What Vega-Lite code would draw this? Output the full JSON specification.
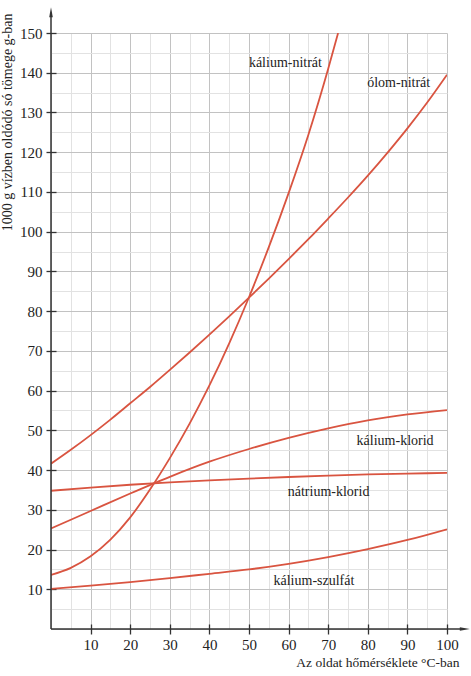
{
  "$schema": "https://vega.github.io/schema/vega-lite/v6.json",
  "width": 396,
  "height": 596,
  "autosize": {"type": "none"},
  "padding": {"left": 51, "top": 33, "right": 24, "bottom": 47},
  "background": "white",
  "config": {"view": {"stroke": null}, "font": "Liberation Serif"},
  "datasets": {
    "curves": [
      {"s": "kálium-nitrát", "t": 0, "v": 13.6}, {"s": "kálium-nitrát", "t": 5, "v": 15.4}, {"s": "kálium-nitrát", "t": 10, "v": 18.3}, {"s": "kálium-nitrát", "t": 15, "v": 22.5}, {"s": "kálium-nitrát", "t": 20, "v": 28.1}, {"s": "kálium-nitrát", "t": 25, "v": 35.1}, {"s": "kálium-nitrát", "t": 30, "v": 43.0}, {"s": "kálium-nitrát", "t": 35, "v": 51.7}, {"s": "kálium-nitrát", "t": 40, "v": 61.3}, {"s": "kálium-nitrát", "t": 45, "v": 71.9}, {"s": "kálium-nitrát", "t": 50, "v": 83.5}, {"s": "kálium-nitrát", "t": 55, "v": 96.1}, {"s": "kálium-nitrát", "t": 60, "v": 109.7}, {"s": "kálium-nitrát", "t": 65, "v": 124.4}, {"s": "kálium-nitrát", "t": 70, "v": 141.0}, {"s": "kálium-nitrát", "t": 72.5, "v": 150},
      {"s": "ólom-nitrát", "t": 0, "v": 41.6}, {"s": "ólom-nitrát", "t": 5, "v": 45.1}, {"s": "ólom-nitrát", "t": 10, "v": 48.8}, {"s": "ólom-nitrát", "t": 15, "v": 52.7}, {"s": "ólom-nitrát", "t": 20, "v": 56.8}, {"s": "ólom-nitrát", "t": 25, "v": 60.9}, {"s": "ólom-nitrát", "t": 30, "v": 65.2}, {"s": "ólom-nitrát", "t": 35, "v": 69.6}, {"s": "ólom-nitrát", "t": 40, "v": 74.1}, {"s": "ólom-nitrát", "t": 45, "v": 78.7}, {"s": "ólom-nitrát", "t": 50, "v": 83.4}, {"s": "ólom-nitrát", "t": 55, "v": 88.2}, {"s": "ólom-nitrát", "t": 60, "v": 93.1}, {"s": "ólom-nitrát", "t": 65, "v": 98.1}, {"s": "ólom-nitrát", "t": 70, "v": 103.3}, {"s": "ólom-nitrát", "t": 75, "v": 108.6}, {"s": "ólom-nitrát", "t": 80, "v": 114.1}, {"s": "ólom-nitrát", "t": 85, "v": 119.9}, {"s": "ólom-nitrát", "t": 90, "v": 126.0}, {"s": "ólom-nitrát", "t": 95, "v": 132.5}, {"s": "ólom-nitrát", "t": 100, "v": 139.5},
      {"s": "kálium-klorid", "t": 0, "v": 25.3}, {"s": "kálium-klorid", "t": 10, "v": 29.7}, {"s": "kálium-klorid", "t": 20, "v": 34.1}, {"s": "kálium-klorid", "t": 30, "v": 38.3}, {"s": "kálium-klorid", "t": 40, "v": 42.1}, {"s": "kálium-klorid", "t": 50, "v": 45.3}, {"s": "kálium-klorid", "t": 60, "v": 48.1}, {"s": "kálium-klorid", "t": 70, "v": 50.5}, {"s": "kálium-klorid", "t": 80, "v": 52.5}, {"s": "kálium-klorid", "t": 90, "v": 54.0}, {"s": "kálium-klorid", "t": 100, "v": 55.1},
      {"s": "nátrium-klorid", "t": 0, "v": 34.8}, {"s": "nátrium-klorid", "t": 10, "v": 35.6}, {"s": "nátrium-klorid", "t": 20, "v": 36.3}, {"s": "nátrium-klorid", "t": 30, "v": 36.9}, {"s": "nátrium-klorid", "t": 40, "v": 37.4}, {"s": "nátrium-klorid", "t": 50, "v": 37.85}, {"s": "nátrium-klorid", "t": 60, "v": 38.25}, {"s": "nátrium-klorid", "t": 70, "v": 38.6}, {"s": "nátrium-klorid", "t": 80, "v": 38.9}, {"s": "nátrium-klorid", "t": 90, "v": 39.1}, {"s": "nátrium-klorid", "t": 100, "v": 39.3},
      {"s": "kálium-szulfát", "t": 0, "v": 10.1}, {"s": "kálium-szulfát", "t": 10, "v": 10.9}, {"s": "kálium-szulfát", "t": 20, "v": 11.8}, {"s": "kálium-szulfát", "t": 30, "v": 12.8}, {"s": "kálium-szulfát", "t": 40, "v": 13.9}, {"s": "kálium-szulfát", "t": 50, "v": 15.0}, {"s": "kálium-szulfát", "t": 60, "v": 16.4}, {"s": "kálium-szulfát", "t": 70, "v": 18.1}, {"s": "kálium-szulfát", "t": 80, "v": 20.1}, {"s": "kálium-szulfát", "t": 90, "v": 22.4}, {"s": "kálium-szulfát", "t": 100, "v": 25.1}
    ],
    "labels": [
      {"label": "kálium-nitrát", "t": 59.2, "v": 142.5},
      {"label": "ólom-nitrát", "t": 87.8, "v": 137.5},
      {"label": "kálium-klorid", "t": 86.9, "v": 47.4},
      {"label": "nátrium-klorid", "t": 70.1, "v": 34.6},
      {"label": "kálium-szulfát", "t": 66.4, "v": 12.1}
    ],
    "one": [{}]
  },
  "layer": [
    {
      "data": {"name": "curves"},
      "mark": {"type": "line", "interpolate": "monotone", "color": "#d95440", "strokeWidth": 1.8, "clip": true},
      "encoding": {
        "x": {
          "field": "t", "type": "quantitative",
          "scale": {"domain": [0, 100], "nice": false, "zero": false},
          "axis": {
            "tickCount": 20,
            "labelExpr": "datum.value % 10 == 0 && datum.value > 0 ? datum.label : ''",
            "domain": false,
            "offset": -5,
            "tickSize": 10,
            "tickColor": "#333",
            "tickWidth": 1.3,
            "tickOpacity": {"condition": {"test": "datum.value % 10 == 0 && datum.value > 0", "value": 1}, "value": 0},
            "grid": true,
            "gridColor": {"condition": {"test": "datum.value % 10 == 0", "value": "#c2c2c2"}, "value": "#e2e2e2"},
            "labelFont": "Liberation Serif",
            "labelFontSize": 15,
            "labelColor": "#222",
            "labelPadding": 3,
            "labelFlush": false,
            "labelOverlap": false,
            "title": "Az oldat hőmérséklete °C-ban",
            "titleFont": "Liberation Serif",
            "titleFontSize": 13.5,
            "titleFontWeight": "normal",
            "titleColor": "#222",
            "titleAlign": "right",
            "titleBaseline": "middle",
            "titleX": 408,
            "titleY": 38
          }
        },
        "y": {
          "field": "v", "type": "quantitative",
          "scale": {"domain": [0, 150], "nice": false, "zero": false},
          "axis": {
            "tickCount": 30,
            "labelExpr": "datum.value % 10 == 0 && datum.value > 0 ? datum.label : ''",
            "domain": false,
            "offset": -5,
            "tickSize": 10,
            "tickColor": "#333",
            "tickWidth": 1.3,
            "tickOpacity": {"condition": {"test": "datum.value % 10 == 0 && datum.value > 0", "value": 1}, "value": 0},
            "grid": true,
            "gridColor": {"condition": {"test": "datum.value % 10 == 0", "value": "#c2c2c2"}, "value": "#e2e2e2"},
            "labelFont": "Liberation Serif",
            "labelFontSize": 15,
            "labelColor": "#222",
            "labelPadding": 4,
            "labelFlush": false,
            "labelOverlap": false,
            "title": "1000 g vízben oldódó só tömege g-ban",
            "titleFont": "Liberation Serif",
            "titleFontSize": 14,
            "titleFontWeight": "normal",
            "titleColor": "#222",
            "titleAngle": -90,
            "titleAlign": "right",
            "titleBaseline": "middle",
            "titleX": -49,
            "titleY": -20
          }
        },
        "detail": {"field": "s", "type": "nominal"}
      }
    },
    {
      "data": {"name": "labels"},
      "mark": {"type": "text", "font": "Liberation Serif", "fontSize": 14, "color": "#222", "align": "center", "baseline": "middle"},
      "encoding": {
        "x": {"field": "t", "type": "quantitative"},
        "y": {"field": "v", "type": "quantitative"},
        "text": {"field": "label", "type": "nominal"}
      }
    },
    {
      "data": {"name": "one"},
      "mark": {"type": "rule", "color": "#333", "strokeWidth": 1.5},
      "encoding": {
        "x": {"datum": 0, "type": "quantitative"},
        "y": {"datum": 0, "type": "quantitative"},
        "y2": {"datum": 154}
      }
    },
    {
      "data": {"name": "one"},
      "mark": {"type": "rule", "color": "#333", "strokeWidth": 1.5},
      "encoding": {
        "x": {"datum": 0, "type": "quantitative"},
        "x2": {"datum": 104},
        "y": {"datum": 0, "type": "quantitative"}
      }
    },
    {
      "data": {"name": "one"},
      "mark": {"type": "point", "shape": "M0,-1L0.36,1L-0.36,1Z", "filled": true, "color": "#333", "size": 100, "opacity": 1},
      "encoding": {
        "x": {"datum": 0, "type": "quantitative"},
        "y": {"datum": 155.2, "type": "quantitative"}
      }
    },
    {
      "data": {"name": "one"},
      "mark": {"type": "point", "shape": "M1,0L-1,0.36L-1,-0.36Z", "filled": true, "color": "#333", "size": 100, "opacity": 1},
      "encoding": {
        "x": {"datum": 104.5, "type": "quantitative"},
        "y": {"datum": 0, "type": "quantitative"}
      }
    }
  ]
}
